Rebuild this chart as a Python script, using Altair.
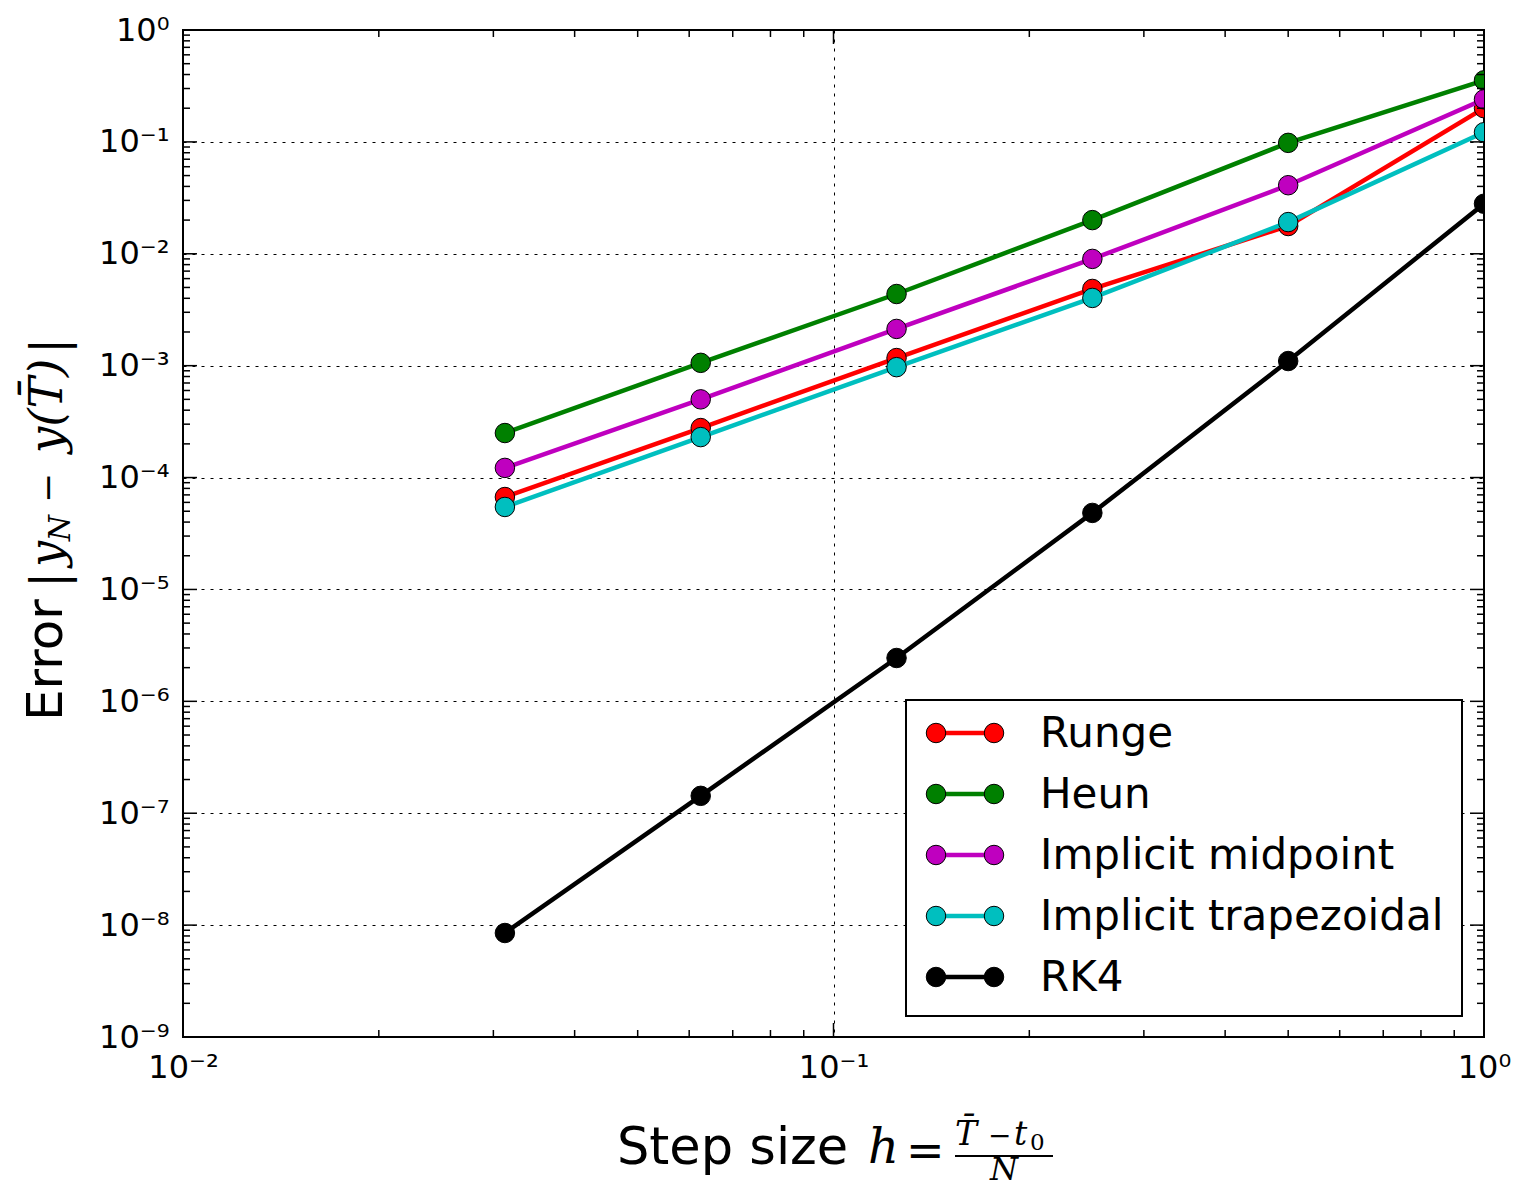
import json
import altair as alt
import pandas as pd

# Step sizes h = (T - t0) / N for N = 32, 16, 8, 4, 2, 1
h = [1/32, 1/16, 1/8, 1/4, 1/2, 1.0]

# Global error |y_N - y(T)| for each method
runge = [6.7e-5, 2.77e-4, 1.17e-3, 4.85e-3, 1.77e-2, 2.0e-1]
heun = [2.5e-4, 1.06e-3, 4.37e-3, 2.0e-2, 9.8e-2, 3.55e-1]
midpoint = [1.22e-4, 5.0e-4, 2.13e-3, 9.0e-3, 4.1e-2, 2.4e-1]
trapezoidal = [5.46e-5, 2.3e-4, 9.7e-4, 4.03e-3, 1.92e-2, 1.22e-1]
rk4 = [8.5e-9, 1.43e-7, 2.44e-6, 4.83e-5, 1.1e-3, 2.8e-2]

names = ["Runge", "Heun", "Implicit midpoint", "Implicit trapezoidal", "RK4"]
colors = ["#ff0000", "#008000", "#bf00bf", "#00bfbf", "#000000"]
series = [runge, heun, midpoint, trapezoidal, rk4]

x_major = [1e-2, 1e-1, 1e0]
y_major = [10.0 ** -k for k in range(9, -1, -1)]
x_minor = [m * 10.0 ** e for e in (-2, -1) for m in range(2, 10)]
y_minor = [m * 10.0 ** e for e in range(-9, 0) for m in range(2, 10)]

W, H = 1301, 1007
SANS = "DejaVu Sans"
SERIF = "DejaVu Serif"

xs = alt.Scale(type="log", domain=[1e-2, 1], nice=False)
ys = alt.Scale(type="log", domain=[1e-9, 1], nice=False)

sup = json.dumps(["\u2070", "\u207b\u00b9", "\u207b\u00b2", "\u207b\u00b3", "\u207b\u2074",
                  "\u207b\u2075", "\u207b\u2076", "\u207b\u2077", "\u207b\u2078", "\u207b\u2079"],
                 ensure_ascii=False)
label_expr = "'10' + " + sup + "[round(-log(datum.value) / LN10)]"

axis_common = dict(
    labelExpr=label_expr, labelFont=SANS, labelFontSize=32, labelColor="black",
    ticks=False, domain=False, grid=True, gridColor="black", gridOpacity=1,
    gridWidth=1, gridDash=[3, 6], title=None, labelFlush=False, labelOverlap=False,
)
x_axis = alt.Axis(values=x_major, labelPadding=15, **axis_common)
y_axis = alt.Axis(values=y_major, labelPadding=14, **axis_common)


def X(field):
    return alt.X(field, scale=xs, axis=x_axis)


def Y(field):
    return alt.Y(field, scale=ys, axis=y_axis)


layers = []

# Error curves: line and circle markers for each method
for name, color, vals in zip(names, colors, series):
    df = pd.DataFrame({"h": h, "err": vals, "method": name})
    base = alt.Chart(df).encode(x=X("h:Q"), y=Y("err:Q"))
    layers.append(base.mark_line(color=color, strokeWidth=4.5, clip=True))
    layers.append(base.mark_point(filled=True, fill=color, stroke="black", strokeWidth=1,
                                  size=380, opacity=1, shape="circle", clip=True))


# Inward ticks on all four sides
def yticks(vals, length):
    d = pd.DataFrame({"v": vals})
    out = []
    for x0, x1 in ((0, length), (W - length, W)):
        out.append(alt.Chart(d).mark_rule(color="black", strokeWidth=1.5).encode(
            y=Y("v:Q"), x=alt.value(x0), x2=alt.value(x1)))
    return out


def xticks(vals, length):
    d = pd.DataFrame({"v": vals})
    out = []
    for y0, y1 in ((0, length), (H - length, H)):
        out.append(alt.Chart(d).mark_rule(color="black", strokeWidth=1.5).encode(
            x=X("v:Q"), y=alt.value(y0), y2=alt.value(y1)))
    return out


layers += yticks(y_major, 14) + yticks(y_minor, 7)
layers += xticks(x_major, 14) + xticks(x_minor, 7)

# Legend box in the lower right corner
leg_df = pd.DataFrame({"name": names, "color": colors})
leg_df["row"] = range(len(names))
leg_df["ly"] = 703 + leg_df["row"] * 61

box = alt.Chart(pd.DataFrame({"a": [0]})).mark_rect(
    fill="white", stroke="black", strokeWidth=2
).encode(x=alt.value(723), x2=alt.value(1279), y=alt.value(670), y2=alt.value(986))
layers.append(box)

leg = alt.Chart(leg_df)
ly = alt.Y("ly:Q", scale=None, axis=None)
col = alt.Color("color:N", scale=None, legend=None)
layers.append(leg.mark_rule(strokeWidth=4.5).encode(
    x=alt.value(753), x2=alt.value(811), y=ly, color=col))
for px in (753, 811):
    layers.append(leg.mark_point(filled=True, stroke="black", strokeWidth=1, size=380,
                                 opacity=1, shape="circle").encode(
        x=alt.value(px), y=ly, fill=alt.Fill("color:N", scale=None, legend=None)))
layers.append(leg.mark_text(align="left", baseline="middle", font=SANS, fontSize=42,
                            color="black", dy=1).encode(
    x=alt.value(857), y=ly, text="name:N"))


# Axis titles with their mathematical parts
def txt(s, x, y, **kw):
    return alt.Chart(pd.DataFrame({"t": [s]})).mark_text(color="black", **kw).encode(
        text="t:N", x=alt.value(x), y=alt.value(y))


# x title: Step size  h = (T - t0) / N
layers.append(txt("Step size", 434, 1134, align="left", baseline="alphabetic",
                  font=SANS, fontSize=51))
layers.append(txt("h", 685, 1133, align="left", baseline="alphabetic",
                  font=SERIF, fontStyle="italic", fontSize=48))
layers.append(txt("=", 723, 1136, align="left", baseline="alphabetic",
                  font=SERIF, fontSize=46))
layers.append(alt.Chart(pd.DataFrame({"a": [0]})).mark_rule(color="black", strokeWidth=2).encode(
    x=alt.value(772), x2=alt.value(870), y=alt.value(1126)))
layers.append(txt("T\u0304", 772, 1115, align="left", baseline="alphabetic",
                  font=SERIF, fontStyle="italic", fontSize=33))
layers.append(txt("\u2212", 805, 1115, align="left", baseline="alphabetic",
                  font=SERIF, fontSize=28))
layers.append(txt("t", 831, 1115, align="left", baseline="alphabetic",
                  font=SERIF, fontStyle="italic", fontSize=33))
layers.append(txt("0", 847, 1120, align="left", baseline="alphabetic",
                  font=SERIF, fontSize=23))
layers.append(txt("N", 821, 1150, align="center", baseline="alphabetic",
                  font=SERIF, fontStyle="italic", fontSize=32))

# y title: Error |y_N - y(T)|   (rotated; pieces placed along the vertical)
BX = -121
layers.append(txt("Error", BX, 691, align="left", baseline="alphabetic", angle=270,
                  font=SANS, fontSize=50))
layers.append(txt("|", BX + 4, 550, align="center", baseline="alphabetic", angle=270,
                  font=SERIF, fontSize=48))
layers.append(txt("y", BX, 524, align="center", baseline="alphabetic", angle=270,
                  font=SERIF, fontStyle="italic", fontSize=46))
layers.append(txt("N", BX + 8, 498, align="center", baseline="alphabetic", angle=270,
                  font=SERIF, fontStyle="italic", fontSize=30))
layers.append(txt("\u2212", BX - 2, 458, align="center", baseline="alphabetic", angle=270,
                  font=SERIF, fontSize=36))
layers.append(txt("y(T\u0304)", BX, 376, align="center", baseline="alphabetic", angle=270,
                  font=SERIF, fontStyle="italic", fontSize=47))
layers.append(txt("|", BX + 4, 316, align="center", baseline="alphabetic", angle=270,
                  font=SERIF, fontSize=48))

chart = alt.layer(*layers).properties(
    width=W, height=H,
    autosize=alt.AutoSizeParams(type="none"),
    padding={"left": 183, "top": 30, "right": 35, "bottom": 151},
    background="white",
).configure(font=SANS).configure_view(stroke="black", strokeWidth=2)

chart.save("out.html", embed_options={"renderer": "svg", "actions": False})
